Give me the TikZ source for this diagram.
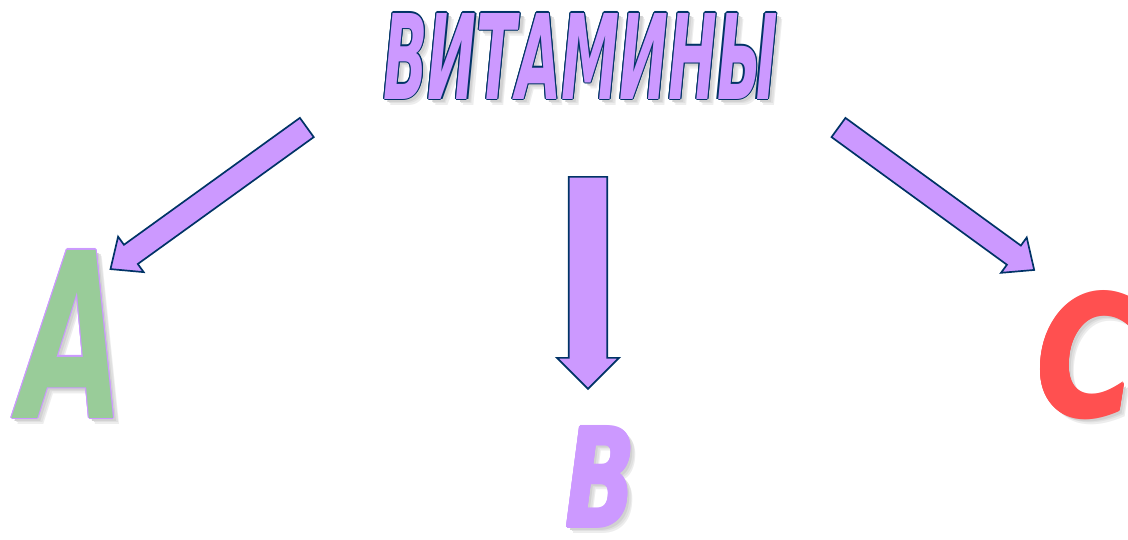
\documentclass[tikz,border=0pt]{standalone}
\usepackage{fontspec}
\usepackage{graphicx}
\usetikzlibrary{shapes.arrows}
\newfontfamily\artfont{DejaVu Sans Condensed}
\definecolor{lilac}{RGB}{204,153,255}
\definecolor{navy}{RGB}{0,51,102}
\definecolor{leaf}{RGB}{153,204,153}
\definecolor{tomato}{RGB}{255,80,80}
% one coloured copy of the word
\newcommand\artlayer[2]{\resizebox{\artw}{\arth}{\color{#1}\artfont\bfseries\itshape #2}}
% width, height, fill, outline, text
\newcommand\wordart[5]{%
  \def\artw{#1}\def\arth{#2}%
  \rlap{\kern4.5pt\raisebox{-4.5pt}{\artlayer{black!7}{#5}}}%
  \rlap{\kern3.5pt\raisebox{-3.5pt}{\artlayer{black!12}{#5}}}%
  \rlap{\kern2.5pt\raisebox{-2.5pt}{\artlayer{black!18}{#5}}}%
  \rlap{\kern-.9pt\artlayer{#4}{#5}}%
  \rlap{\kern.9pt\artlayer{#4}{#5}}%
  \rlap{\raisebox{.9pt}{\artlayer{#4}{#5}}}%
  \rlap{\raisebox{-.9pt}{\artlayer{#4}{#5}}}%
  \rlap{\kern.65pt\raisebox{.65pt}{\artlayer{#4}{#5}}}%
  \rlap{\kern-.65pt\raisebox{.65pt}{\artlayer{#4}{#5}}}%
  \rlap{\kern.65pt\raisebox{-.65pt}{\artlayer{#4}{#5}}}%
  \rlap{\kern-.65pt\raisebox{-.65pt}{\artlayer{#4}{#5}}}%
  \artlayer{#3}{#5}}
\begin{document}
\begin{tikzpicture}[
  x=0.025cm, y=-0.025cm,
  art/.style={inner sep=0, anchor=base west},
  blockarrow/.style={single arrow, draw=navy, fill=lilac, line width=1.2pt, inner xsep=0},
  sidearrow/.style={blockarrow, inner ysep=0.275cm, minimum width=1.05cm, minimum height=6.05cm, single arrow tip angle=82},
]
\useasboundingbox (0,0) rectangle (1128,539);
\node[art] (title) at (383,99) {\wordart{9.85cm}{2.15cm}{lilac}{navy}{ВИТАМИНЫ}};
\node[art] (vitA) at (20,418) {\wordart{2.6cm}{4.2cm}{leaf}{lilac}{A}};
\node[art] (vitB) at (565,527) {\wordart{1.75cm}{2.5cm}{lilac}{lilac}{B}};
\node[art] (vitC) at (1036,416) {\wordart{2.5cm}{3.1cm}{tomato}{tomato}{C}};

\node[sidearrow, anchor=tail, rotate=215.8] (toA) at (307.5,127) {};
\node[blockarrow, anchor=tail, rotate=-90, inner ysep=0.3875cm, minimum width=1.55cm, minimum height=5.3cm] (toB) at (588,176) {};
\node[sidearrow, anchor=tail, rotate=-36.05] (toC) at (837.8,127) {};
\end{tikzpicture}
\end{document}
